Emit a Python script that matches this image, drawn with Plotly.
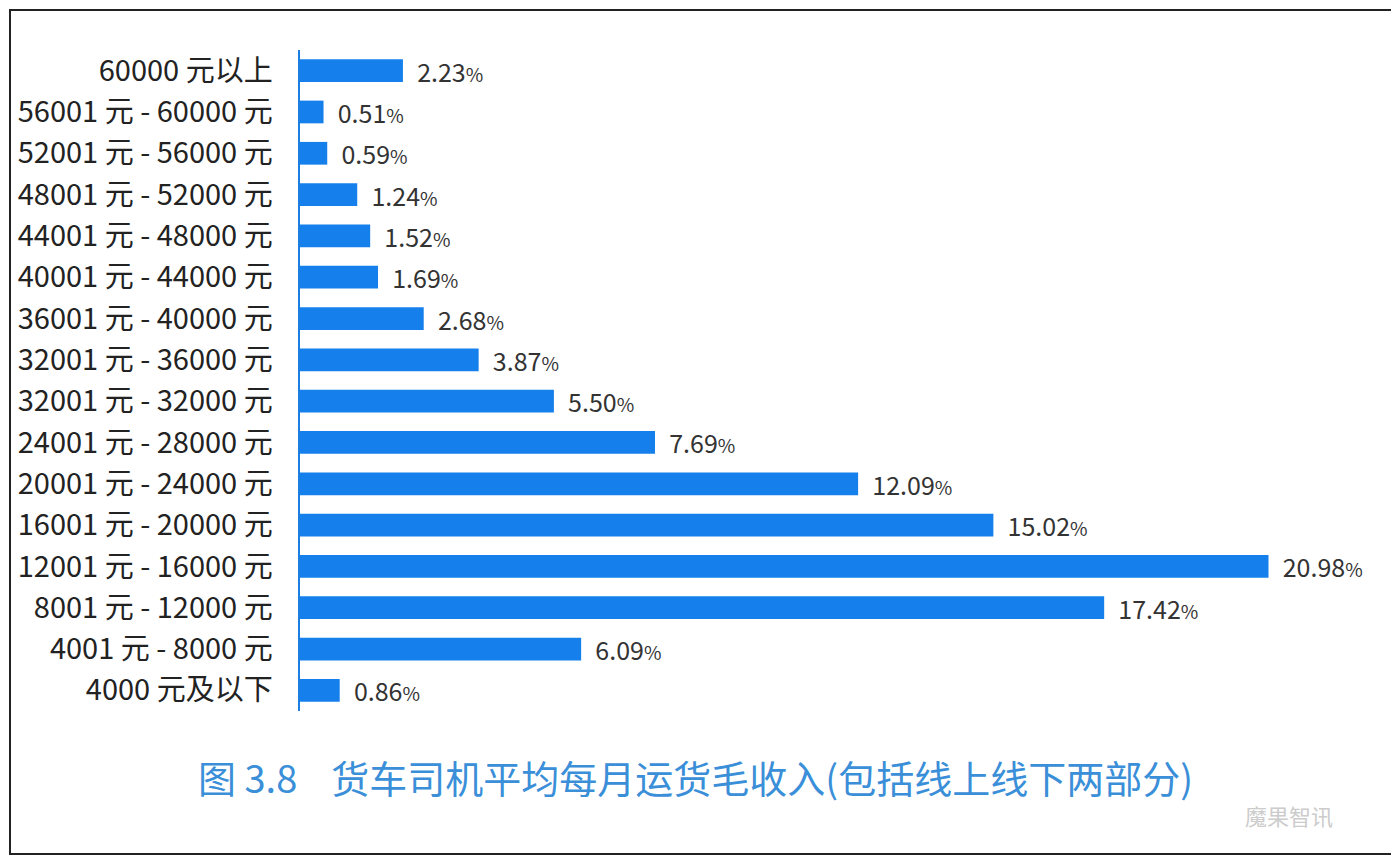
import plotly.graph_objects as go

categories = ["60000 元以上", "56001 元 - 60000 元", "52001 元 - 56000 元", "48001 元 - 52000 元",
              "44001 元 - 48000 元", "40001 元 - 44000 元", "36001 元 - 40000 元", "32001 元 - 36000 元",
              "32001 元 - 32000 元", "24001 元 - 28000 元", "20001 元 - 24000 元", "16001 元 - 20000 元",
              "12001 元 - 16000 元", "8001 元 - 12000 元", "4001 元 - 8000 元", "4000 元及以下"]
values = [2.23, 0.51, 0.59, 1.24, 1.52, 1.69, 2.68, 3.87, 5.50, 7.69, 12.09, 15.02, 20.98, 17.42, 6.09, 0.86]

texts = [f"  {v:.2f}<span style='font-size:19px'>%</span>" for v in values]

fig = go.Figure(go.Bar(
    y=categories, x=values, orientation="h", width=0.55,
    marker=dict(color="#1580ec", line=dict(width=0)),
    text=texts, textposition="outside", cliponaxis=False, constraintext="none",
    textfont=dict(size=25, color="#333333", family="Noto Sans CJK SC"),
))
fig.update_layout(
    width=1399, height=855, paper_bgcolor="white", plot_bgcolor="white",
    margin=dict(l=292, r=0, t=42, b=152), showlegend=False,
    font=dict(family="Noto Sans CJK SC"),
    xaxis=dict(range=[0, 23.98], visible=False),
    yaxis=dict(autorange="reversed", showline=True, linecolor="#1a7fe0", linewidth=2,
               ticks="", showgrid=False, ticksuffix="   ",
               tickfont=dict(size=29, color="#222222", family="Noto Sans CJK SC")),
    shapes=[dict(type="rect", xref="paper", yref="paper", x0=-290/1107, x1=1098/1107,
                 y0=-143/661, y1=1 + 40/661, line=dict(color="#222", width=2))],
    annotations=[
        dict(text="图 3.8    货车司机平均每月运货毛收入(包括线上线下两部分)", xref="paper", yref="paper",
             x=(695-300)/1107, y=-(798-703)/661, showarrow=False,
             font=dict(size=38, color="#3a8fd8", family="Noto Sans CJK SC")),
        dict(text="魔果智讯", xref="paper", yref="paper", x=(1335-300)/1107, y=-(825-703)/661,
             showarrow=False, font=dict(size=22, color="#cccccc")),
    ],
)
fig.write_html("out.html")
